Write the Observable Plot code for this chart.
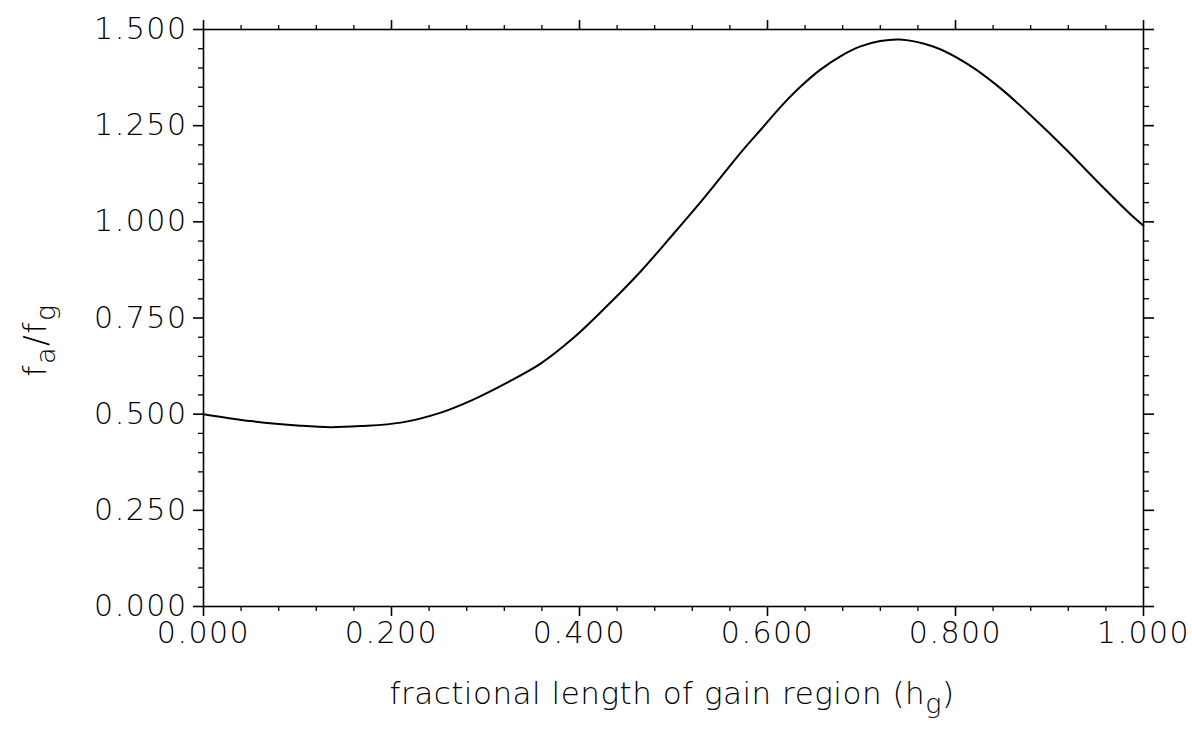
<!DOCTYPE html>
<html>
<head>
<meta charset="utf-8">
<script src="https://cdn.jsdelivr.net/npm/d3@7"></script>
<script src="https://cdn.jsdelivr.net/npm/@observablehq/plot@0.6"></script>
<style>
  html, body { margin: 0; padding: 0; background: #fff; }
  #chart { width: 1192px; height: 740px; }
  svg text { font-family: "DejaVu Sans", sans-serif; font-weight: 200; }
</style>
</head>
<body>
<div id="chart"></div>
<script>
// fractional length of gain region (h_g)
const hg = [0, 0.05, 0.103, 0.135, 0.167, 0.21, 0.25, 0.287, 0.323, 0.359, 0.394, 0.43, 0.465, 0.5, 0.529, 0.55, 0.574, 0.593, 0.614, 0.635, 0.656, 0.678, 0.699, 0.72, 0.741, 0.777, 0.813, 0.848, 0.883, 0.919, 0.954, 0.989, 1.0];
// f_a / f_g
const ratio = [0.5, 0.482, 0.47, 0.466, 0.469, 0.478, 0.502, 0.538, 0.582, 0.632, 0.699, 0.783, 0.871, 0.969, 1.052, 1.115, 1.187, 1.24, 1.299, 1.351, 1.395, 1.431, 1.456, 1.47, 1.474, 1.455, 1.41, 1.347, 1.27, 1.185, 1.097, 1.013, 0.99];

const xMajor = [0, 0.2, 0.4, 0.6, 0.8, 1.0];
const xMinor = [0.04, 0.08, 0.12, 0.16, 0.24, 0.28, 0.32, 0.36, 0.44, 0.48, 0.52, 0.56, 0.64, 0.68, 0.72, 0.76, 0.84, 0.88, 0.92, 0.96];
const yMajor = [0, 0.25, 0.5, 0.75, 1.0, 1.25, 1.5];
const yMinor = [0.05, 0.1, 0.15, 0.2, 0.3, 0.35, 0.4, 0.45, 0.55, 0.6, 0.65, 0.7, 0.8, 0.85, 0.9, 0.95, 1.05, 1.1, 1.15, 1.2, 1.3, 1.35, 1.4, 1.45];

const data = hg.map((h, i) => ({h, r: ratio[i]}));
const fmt = d3.format(".3f");
const none = () => "";

const plot = Plot.plot({
  width: 1192,
  height: 740,
  marginLeft: 203,
  marginRight: 49,
  marginTop: 29,
  marginBottom: 134,
  style: {fontSize: "30px", fontFamily: "DejaVu Sans, sans-serif", color: "#000", background: "#fff", letterSpacing: "1.5px"},
  x: {domain: [0, 1]},
  y: {domain: [0, 1.5]},
  marks: [
    Plot.frame({stroke: "#000", strokeWidth: 1.6}),
    // bottom axis
    Plot.axisX({anchor: "bottom", ticks: xMajor, tickFormat: fmt, tickSize: 10, tickPadding: 5, label: null, strokeWidth: 1.6}),
    Plot.axisX({anchor: "bottom", ticks: xMinor, tickFormat: none, tickSize: 5, label: null, strokeWidth: 1.3}),
    // top axis
    Plot.axisX({anchor: "top", ticks: xMajor, tickFormat: none, tickSize: 10, label: null, strokeWidth: 1.6}),
    Plot.axisX({anchor: "top", ticks: xMinor, tickFormat: none, tickSize: 5, label: null, strokeWidth: 1.3}),
    // left axis
    Plot.axisY({anchor: "left", ticks: yMajor, tickFormat: fmt, tickSize: 10, tickPadding: 6, label: null, strokeWidth: 1.6}),
    Plot.axisY({anchor: "left", ticks: yMinor, tickFormat: none, tickSize: 5, label: null, strokeWidth: 1.3}),
    // right axis
    Plot.axisY({anchor: "right", ticks: yMajor, tickFormat: none, tickSize: 10, label: null, strokeWidth: 1.6}),
    Plot.axisY({anchor: "right", ticks: yMinor, tickFormat: none, tickSize: 5, label: null, strokeWidth: 1.3}),
    Plot.line(data, {x: "h", y: "r", stroke: "#000", strokeWidth: 2, curve: "catmull-rom"})
  ]
});

document.getElementById("chart").appendChild(plot);

// axis titles with subscripts
const svg = d3.select(plot);
const xt = svg.append("text")
  .attr("x", 672).attr("y", 704)
  .attr("text-anchor", "middle")
  .attr("fill", "#000")
  .style("font-size", "31px")
  .style("letter-spacing", "0.5px");
xt.append("tspan").text("fractional length of gain region (h");
xt.append("tspan").attr("dy", 9).style("font-size", "27px").text("g");
xt.append("tspan").attr("dy", -9).text(")");

const yt = svg.append("text")
  .attr("transform", "translate(46,340) rotate(-90)")
  .attr("text-anchor", "middle")
  .attr("fill", "#000")
  .style("font-size", "32px");
yt.append("tspan").text("f");
yt.append("tspan").attr("dy", 9).style("font-size", "27px").text("a");
yt.append("tspan").attr("dy", -9).text("/f");
yt.append("tspan").attr("dy", 9).style("font-size", "27px").text("g");
</script>
</body>
</html>
